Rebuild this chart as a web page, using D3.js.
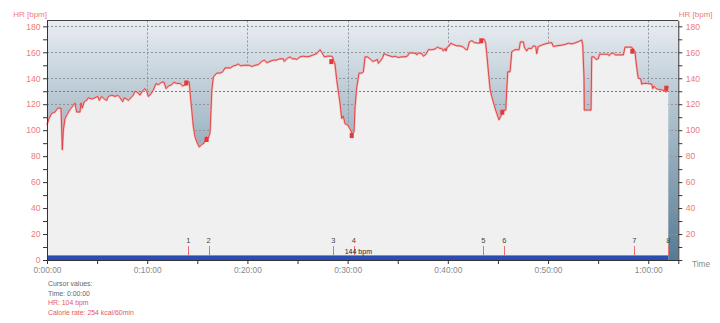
<!DOCTYPE html>
<html><head><meta charset="utf-8">
<script src="https://cdn.jsdelivr.net/npm/d3@7"></script>
<style>
body{margin:0;background:#fff;}
svg{display:block;font-family:"Liberation Sans",Arial,sans-serif;}
</style></head><body>
<svg id="c" width="720" height="323"></svg>
<script>
// time in minutes
const mins = [0,0.20,0.47,0.80,1.07,1.40,1.47,1.53,1.63,1.80,2.07,2.30,2.62,2.79,2.96,3.29,3.39,3.52,3.72,3.96,4.12,4.46,4.79,5.06,5.22,5.46,5.72,5.96,6.12,6.46,6.79,7.06,7.29,7.55,7.71,7.95,8.11,8.38,8.61,8.78,9.05,9.28,9.51,9.78,9.95,10.11,10.38,10.61,10.88,11.11,11.45,11.68,11.88,12.11,12.45,12.67,12.94,13.27,13.54,13.77,13.94,14.20,14.27,14.44,14.60,14.77,15.00,15.20,15.44,15.67,15.87,16.10,16.27,16.37,16.44,16.60,16.94,17.27,17.54,17.76,17.99,18.33,18.59,18.86,19.09,19.33,19.59,19.93,20.19,20.43,20.76,21.09,21.43,21.69,21.93,22.26,22.59,22.92,23.25,23.58,23.68,23.92,24.25,24.48,24.75,24.92,25.25,25.58,25.92,26.25,26.58,26.92,27.25,27.41,27.67,28.01,28.34,28.51,28.57,28.74,28.91,29.07,29.24,29.41,29.57,29.74,30.01,30.24,30.47,30.64,30.74,30.91,31.14,31.41,31.57,31.74,31.97,32.24,32.50,32.73,32.97,33.07,33.30,33.50,33.63,33.90,34.30,34.50,34.73,35.06,35.40,35.73,35.96,36.16,36.56,36.83,36.90,37.06,37.39,37.56,37.82,38.05,38.39,38.72,38.95,39.22,39.39,39.55,39.72,39.82,39.95,40.15,40.29,40.55,40.89,41.22,41.55,41.82,41.95,42.15,42.39,42.65,43.05,43.21,43.44,43.64,43.78,43.88,44.04,44.21,44.38,44.64,44.88,45.11,45.31,45.54,45.78,45.88,45.98,46.21,46.38,46.71,47.11,47.24,47.54,47.64,47.87,48.03,48.37,48.53,48.77,48.87,49.03,49.37,49.70,50.03,50.37,50.53,50.87,51.37,51.70,52.03,52.36,52.63,52.79,53.12,53.36,53.46,53.59,53.62,54.02,54.29,54.36,54.59,54.79,55.02,55.12,55.52,55.92,56.12,56.26,56.52,56.69,57.02,57.52,57.68,58.01,58.35,58.51,58.68,58.78,58.91,59.01,59.25,59.35,59.51,59.91,60.35,60.45,60.58,60.78,61.01,61.35,61.61,61.78,62.00];
const hr = [104,109,113,114,117,117,100,85,100,109,113,116,119,121,114,114,121,117,122,123,125,124,125,126,123,126,124,123,126,127,126,127,125,122,125,124,123,125,127,130,129,127,130,132,130,126,128,131,136,135,137,137,132,134,135,137,136,136,134,135,137.5,137,130,116,103,95,90,87,89,90,95,94,98,116,130,141,144,144,145,148,148,148,149.5,150,151,149.5,150,150,150,149,150,150.5,153,154,152,153,154,154,155,155,153,155,156.5,155,155,154.5,156.5,157,156.5,157,158,159,162,160,156.5,157,157,156.5,154,151,139,130,121,109,111,105,104,101,97,99,118,133,144,144,145,156.5,156.5,155,153,153.5,154.5,151.5,153.5,156,159,158,157,156.5,157,156,156.5,156.5,157,159.5,159.5,159,158,159.5,159,157,158.5,162,162,162.5,164,163,163,161,163,161,164,165,167,166,165,165,164,162,162,168,169,167.5,167,167.5,170,170,167,159,146,132,126,119,113,108,111,115,115.5,131,145,145,160.5,162,162,168,168,164,161,163,163,165,164.5,159,164.5,165.5,166.5,167,167.5,164.5,165,165.5,166,167,166.5,167,167.5,168.5,169.5,166,141,115.5,115.5,115.5,156.5,156.5,154.5,155,158.5,158.5,158.5,157.5,159,159.5,158,158,158,164,164,164,162,160.5,153,145,140,139.5,135.5,136,136,135.5,132,134,132,131.5,131,130.5,129.5,133.5];
const lapTimes = [14.10,16.13,28.57,30.61,43.54,45.64,58.61,62.00];
const lapLabels = ["1","2","3","4","5","6","7","8"];
const yTicks = [0,10,20,30,40,50,60,70,80,90,100,110,120,130,140,150,160,170,180];
const xTicks = [0,5,10,15,20,25,30,35,40,45,50,55,60];
const gridMins = [10,20,30,40,50,60];
const gridHr = [20,40,60,80,100,120,140,160,180];
const thresholdHr = 130;
const cursorLines = ["Cursor values:","Time: 0:00:00","HR: 104 bpm","Calorie rate: 254 kcal/60min"];
const lapHrLabel = "144 bpm";

const svg = d3.select("#c");
const L=47, R=678.3, T=20.5, B=260;
const x = d3.scaleLinear().domain([0,63]).range([L,R]);
const y = d3.scaleLinear().domain([0,184.5]).range([B,T]);
const data = mins.map((m,i)=>({m, h:hr[i]}));

const defs = svg.append("defs");
const g = defs.append("linearGradient").attr("id","bg").attr("x1",0).attr("y1",0).attr("x2",0).attr("y2",1);
g.append("stop").attr("offset","0%").attr("stop-color","#e9edf1");
g.append("stop").attr("offset","100%").attr("stop-color","#537b95");

svg.append("rect").attr("x",L).attr("y",T).attr("width",R-L).attr("height",B-T).attr("fill","url(#bg)");

// grids
svg.append("g").selectAll("line").data(gridHr).join("line")
  .attr("x1",L).attr("x2",R).attr("y1",d=>Math.round(y(d))+0.5).attr("y2",d=>Math.round(y(d))+0.5)
  .attr("stroke","#8f959a").attr("stroke-dasharray","2,2");
svg.append("g").selectAll("line").data(gridMins).join("line")
  .attr("y1",T).attr("y2",B).attr("x1",d=>Math.round(x(d))+0.5).attr("x2",d=>Math.round(x(d))+0.5)
  .attr("stroke","#8f959a").attr("stroke-dasharray","2,2");

// area
const area = d3.area().x(d=>x(d.m)).y0(B).y1(d=>y(d.h));
svg.append("path").datum(data).attr("d",area).attr("fill","#f0f0f0");

// threshold line
svg.append("line").attr("x1",L).attr("x2",R).attr("y1",Math.round(y(thresholdHr))+0.5).attr("y2",Math.round(y(thresholdHr))+0.5)
  .attr("stroke","#7a7a7a").attr("stroke-dasharray","2,2");

// HR line
const line = d3.line().x(d=>x(d.m)).y(d=>y(d.h));
svg.append("path").datum(data).attr("d",line).attr("fill","none").attr("stroke","#f2a3a3").attr("stroke-opacity",0.75).attr("stroke-width",2.2).attr("stroke-linejoin","round");
svg.append("path").datum(data).attr("d",line).attr("fill","none").attr("stroke","#e03a3c").attr("stroke-width",0.9).attr("stroke-linejoin","round");

// lap squares
const bis = d3.bisector(d=>d.m).right;
function hrAt(t){ const i = Math.max(0, bis(data,t)-1); return data[i].h; }
svg.append("g").selectAll("rect").data(lapTimes).join("rect")
  .attr("x",d=>x(d)-4).attr("y",d=>y(hrAt(d))-1).attr("width",4).attr("height",5).attr("fill","#e03a3c");

// blue bar
svg.append("rect").attr("x",L).attr("y",255).attr("width",x(62)-L).attr("height",5).attr("fill","#2a4cb3");
svg.append("rect").attr("x",L).attr("y",255).attr("width",x(62)-L).attr("height",1).attr("fill","#7191d8");

// lap markers
const laps = svg.append("g");
laps.selectAll("line").data(lapTimes).join("line")
  .attr("x1",d=>Math.round(x(d))+0.5).attr("x2",d=>Math.round(x(d))+0.5).attr("y1",246).attr("y2",255)
  .attr("stroke","#e87070").attr("stroke-width",1);
laps.selectAll("text").data(lapTimes).join("text")
  .attr("x",d=>x(d)).attr("y",243).attr("text-anchor","middle").attr("font-size",7.5).attr("fill","#444")
  .text((d,i)=>lapLabels[i]);
svg.append("text").attr("x",x(lapTimes[3])-9).attr("y",253.5).attr("font-size",7).attr("fill","#222").text(lapHrLabel);

// frame top
svg.append("line").attr("x1",L).attr("x2",R).attr("y1",T).attr("y2",T).attr("stroke","#444");

// axes
const axL = d3.axisLeft(y).tickValues(yTicks).tickSize(4).tickSizeOuter(0).tickPadding(2.5).tickFormat(d=>d%20===0?d:"");
const gl = svg.append("g").attr("transform",`translate(${L},0)`).call(axL);
const axR = d3.axisRight(y).tickValues(yTicks).tickSize(4).tickSizeOuter(0).tickPadding(3.5).tickFormat(d=>(d%20===0&&d>0)?d:"");
const gr = svg.append("g").attr("transform",`translate(${R},0)`).call(axR);
function fmt(m){const h=Math.floor(m/60), mm=m%60; return h+":"+String(mm).padStart(2,"0")+":00";}
const axB = d3.axisBottom(x).tickValues(xTicks).tickSize(4).tickSizeOuter(4).tickPadding(3).tickFormat(d=>d%10===0?fmt(d):"");
const gb = svg.append("g").attr("transform",`translate(0,${B})`).call(axB);
[gl,gr,gb].forEach(a=>{a.select(".domain").attr("stroke","#333");a.selectAll(".tick line").attr("stroke","#333");});
gl.selectAll("text").attr("fill","#ee7a7a").attr("font-size",8.6).attr("font-family","Liberation Sans, Arial");
gr.selectAll("text").attr("fill","#ee7a7a").attr("font-size",8.6).attr("font-family","Liberation Sans, Arial");
gb.selectAll("text").attr("fill","#8a8a8a").attr("font-size",8.4).attr("font-family","Liberation Sans, Arial");

// axis titles
svg.append("text").attr("x",L).attr("y",17).attr("text-anchor","end").attr("font-size",8).attr("fill","#ee7a7a").text("HR [bpm]");
svg.append("text").attr("x",R+0.5).attr("y",17).attr("font-size",8).attr("fill","#ee7a7a").text("HR [bpm]");
svg.append("text").attr("x",692).attr("y",267).attr("font-size",8.3).attr("fill","#8a8a8a").text("Time");

// cursor values
const cols = ["#666","#666","#e05a5a","#e05a5a"];
svg.append("g").selectAll("text").data(cursorLines).join("text")
  .attr("x",48).attr("y",(d,i)=>286+i*9.7).attr("font-size",6.9).attr("fill",(d,i)=>cols[i]).text(d=>d);
</script>
</body></html>
